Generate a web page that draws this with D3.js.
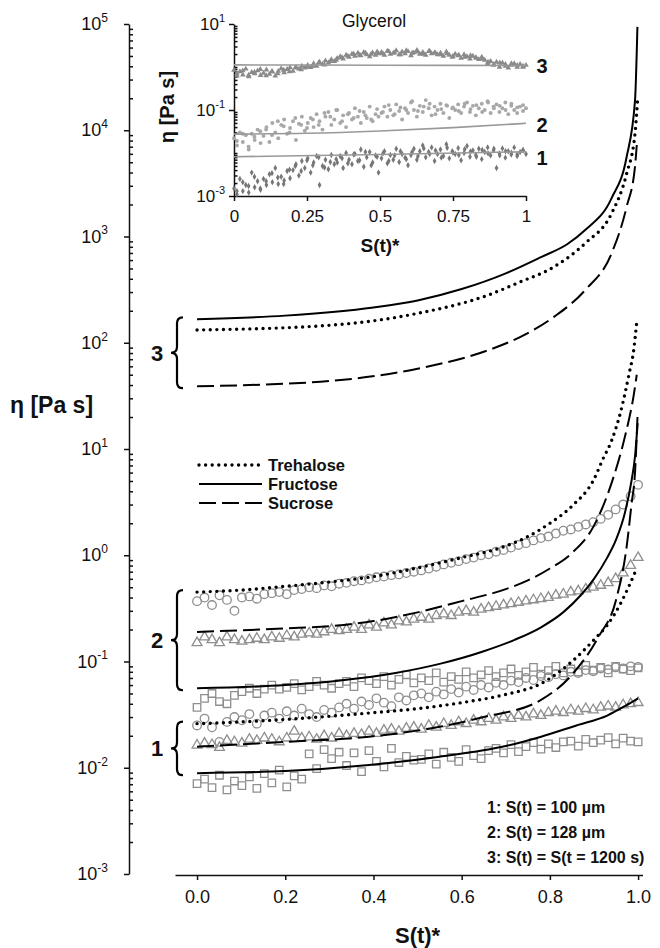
<!DOCTYPE html>
<html>
<head>
<meta charset="utf-8">
<script src="https://cdn.jsdelivr.net/npm/d3@7"></script>
<style>
body { margin: 0; background: #fff; }
text { font-family: "Liberation Sans", Arial, sans-serif; fill: #111; }
</style>
</head>
<body>
<svg id="chart" width="660" height="948"></svg>
<script>
// ---------- main chart: model curves (S(t)*, eta) ----------
var fru3X = [0, 0.2, 0.4, 0.5, 0.6, 0.7, 0.78, 0.84, 0.88, 0.94, 0.974, 0.993, 0.9985];
var fru3V = [166, 180, 215, 250, 320, 450, 640, 850, 1150, 2300, 5600, 19000, 94000];
var tre3X = [0, 0.28, 0.5, 0.66, 0.73, 0.81, 0.88, 0.94, 0.974, 0.993, 0.9985];
var tre3V = [132, 144, 189, 281, 370, 520, 863, 1650, 3900, 9300, 18500];
var suc3X = [0, 0.28, 0.5, 0.66, 0.73, 0.81, 0.88, 0.94, 0.974, 0.993, 0.997];
var suc3V = [39, 43, 57, 85, 112, 176, 313, 695, 1900, 4540, 7260];

var tre2X = [0, 0.1, 0.2, 0.3, 0.4, 0.5, 0.6, 0.7, 0.75, 0.8, 0.85, 0.9, 0.92, 0.94, 0.96, 0.98, 0.99, 0.997];
var tre2V = [0.45, 0.47, 0.51, 0.56, 0.63, 0.76, 0.95, 1.22, 1.5, 2.0, 2.9, 5.2, 8.0, 12, 22, 52, 85, 158];
var suc2X = [0, 0.2, 0.3, 0.4, 0.5, 0.6, 0.7, 0.75, 0.8, 0.85, 0.9, 0.94, 0.97, 0.99, 0.997];
var suc2V = [0.19, 0.205, 0.215, 0.24, 0.29, 0.37, 0.48, 0.58, 0.75, 1.05, 1.9, 4.8, 13, 32, 50];
var fru2X = [0, 0.2, 0.32, 0.45, 0.55, 0.65, 0.72, 0.78, 0.83, 0.87, 0.9, 0.93, 0.95, 0.97, 0.985, 0.993, 0.999];
var fru2V = [0.056, 0.06, 0.066, 0.078, 0.095, 0.125, 0.16, 0.21, 0.29, 0.42, 0.6, 0.95, 1.4, 2.5, 5, 8.5, 17.5];

var tre1X = [0, 0.1, 0.2, 0.3, 0.4, 0.5, 0.6, 0.7, 0.78, 0.85, 0.9, 0.93, 0.96, 0.98, 0.995];
var tre1V = [0.026, 0.027, 0.0285, 0.0305, 0.033, 0.036, 0.041, 0.049, 0.062, 0.1, 0.16, 0.22, 0.35, 0.52, 0.72];
var suc1X = [0, 0.2, 0.39, 0.55, 0.65, 0.78, 0.85, 0.91, 0.95, 0.974, 0.985, 0.993, 0.999];
var suc1V = [0.0158, 0.0175, 0.0196, 0.0243, 0.03, 0.0435, 0.075, 0.17, 0.38, 1.2, 3.0, 6, 22];
var fru1X = [0, 0.2, 0.39, 0.55, 0.7, 0.78, 0.86, 0.93, 0.97, 1.0];
var fru1V = [0.0089, 0.0093, 0.0106, 0.0127, 0.016, 0.0196, 0.025, 0.031, 0.038, 0.045];

// ---------- main chart: measured points, 60 per series, S(t)* from 0 to 1 ----------
var circ2 = [0.37, 0.40, 0.34, 0.42, 0.38, 0.30, 0.40, 0.41, 0.39, 0.43,
             0.44, 0.45, 0.43, 0.47, 0.48, 0.50, 0.49, 0.52, 0.51, 0.54,
             0.55, 0.57, 0.58, 0.60, 0.62, 0.63, 0.65, 0.66, 0.68, 0.70,
             0.72, 0.75, 0.78, 0.82, 0.85, 0.88, 0.92, 0.95, 1.0, 1.02,
             1.08, 1.12, 1.18, 1.25, 1.3, 1.38, 1.45, 1.5, 1.6, 1.7,
             1.75, 1.85, 1.95, 2.05, 2.2, 2.4, 2.7, 3.0, 3.6, 4.6];
var tri2 = [0.15, 0.17, 0.16, 0.15, 0.17, 0.16, 0.155, 0.16, 0.165, 0.16,
            0.17, 0.165, 0.175, 0.17, 0.18, 0.185, 0.18, 0.19, 0.2, 0.195,
            0.2, 0.21, 0.2, 0.22, 0.21, 0.23, 0.22, 0.24, 0.235, 0.25,
            0.26, 0.25, 0.27, 0.28, 0.27, 0.29, 0.3, 0.29, 0.31, 0.32,
            0.33, 0.34, 0.35, 0.36, 0.37, 0.38, 0.39, 0.4, 0.42, 0.43,
            0.45, 0.46, 0.48, 0.5, 0.52, 0.55, 0.6, 0.68, 0.8, 0.95];
var sq2 = [0.037, 0.045, 0.05, 0.042, 0.04, 0.048, 0.052, 0.056, 0.05, 0.055,
           0.06, 0.055, 0.057, 0.062, 0.054, 0.058, 0.065, 0.06, 0.056, 0.062,
           0.065, 0.058, 0.07, 0.066, 0.062, 0.072, 0.06, 0.068, 0.075, 0.063,
           0.07, 0.066, 0.078, 0.064, 0.072, 0.068, 0.08, 0.07, 0.075, 0.082,
           0.072, 0.078, 0.085, 0.074, 0.08, 0.088, 0.076, 0.082, 0.09, 0.078,
           0.085, 0.08, 0.092, 0.083, 0.088, 0.078, 0.09, 0.085, 0.082, 0.087];
var circ1 = [0.025, 0.029, 0.024, 0.0175, 0.027, 0.03, 0.028, 0.032, 0.026, 0.031,
             0.033, 0.029, 0.034, 0.031, 0.036, 0.032, 0.03, 0.035, 0.033, 0.037,
             0.04, 0.036, 0.042, 0.039, 0.045, 0.041, 0.038, 0.046, 0.043, 0.048,
             0.05, 0.046, 0.052, 0.049, 0.055, 0.051, 0.058, 0.054, 0.06, 0.057,
             0.063, 0.06, 0.066, 0.064, 0.07, 0.067, 0.073, 0.071, 0.076, 0.074,
             0.08, 0.078, 0.083, 0.081, 0.086, 0.084, 0.088, 0.086, 0.09, 0.089];
var tri1 = [0.0163, 0.017, 0.0165, 0.0155, 0.018, 0.0175, 0.017, 0.0185, 0.018, 0.019,
            0.0185, 0.0175, 0.019, 0.022, 0.019, 0.0195, 0.0185, 0.02, 0.019, 0.021,
            0.02, 0.021, 0.0205, 0.022, 0.021, 0.0225, 0.023, 0.022, 0.0235, 0.024,
            0.023, 0.025, 0.024, 0.026, 0.025, 0.027, 0.026, 0.028, 0.027, 0.029,
            0.028, 0.03, 0.029, 0.031, 0.03, 0.032, 0.031, 0.033, 0.034, 0.033,
            0.035, 0.034, 0.036, 0.035, 0.037, 0.038, 0.037, 0.039, 0.04, 0.041];
var sq1 = [0.0071, 0.0078, 0.0065, 0.0085, 0.0062, 0.0075, 0.0068, 0.0082, 0.0064, 0.0088,
           0.0072, 0.0095, 0.0066, 0.0084, 0.0078, 0.0135, 0.0098, 0.0148, 0.0122, 0.014,
           0.0105, 0.0138, 0.0092, 0.0145, 0.0115, 0.0102, 0.0152, 0.0112, 0.0128, 0.0118,
           0.012, 0.0135, 0.0108, 0.014, 0.0125, 0.0115, 0.0148, 0.013, 0.0122, 0.0145,
           0.0152, 0.0138, 0.0165, 0.0142, 0.0158, 0.0172, 0.015, 0.0168, 0.0155, 0.0175,
           0.0178, 0.016, 0.0185, 0.0172, 0.0182, 0.0192, 0.0168, 0.019, 0.0178, 0.0175];

// ---------- inset (Glycerol): 100 points per series on the main grid ----------
var gly3 = [0.85, 0.62, 0.78, 0.66, 0.9, 0.6, 0.75, 0.7, 0.82, 0.64, 0.72, 0.86, 0.68, 0.77, 0.62,
            0.8, 0.92, 0.74, 0.88, 0.97, 0.8, 1.0, 0.9, 1.05, 0.95,
            1.1, 0.98, 1.2, 1.05, 1.3, 1.15, 1.4, 1.25, 1.5, 1.35,
            1.6, 1.75, 1.55, 1.9, 1.7, 2.0, 1.8, 2.1, 1.85, 2.2, 1.95, 1.75, 2.15, 1.9, 2.05,
            2.2, 1.9, 2.35, 2.0, 2.1, 2.4, 1.95, 2.25, 2.05, 2.3, 1.85, 2.15, 2.45, 2.0, 2.2, 1.9, 2.3, 2.05, 2.15, 1.95,
            2.1, 1.8, 2.25, 1.9, 1.7, 2.0, 1.85, 1.6, 1.95, 1.75, 1.55, 1.8, 1.65, 1.5, 1.7,
            1.45, 1.2, 1.35, 1.1, 1.3, 1.0, 1.25, 1.15, 0.95, 1.1, 1.2, 1.0, 1.15, 1.05, 1.1];
var gly2 = [0.022, 0.015, 0.03, 0.018, 0.026, 0.012, 0.028, 0.02, 0.035, 0.017,
            0.025, 0.04, 0.018, 0.05, 0.03, 0.022, 0.045, 0.06, 0.028, 0.038, 0.055, 0.02, 0.048, 0.07, 0.033,
            0.05, 0.065, 0.04, 0.08, 0.055, 0.035, 0.07, 0.09, 0.045, 0.06, 0.1, 0.05, 0.075, 0.04, 0.085,
            0.06, 0.11, 0.07, 0.05, 0.09, 0.065, 0.12, 0.055, 0.08, 0.07,
            0.085, 0.12, 0.07, 0.1, 0.075, 0.135, 0.095, 0.06, 0.11, 0.085, 0.15, 0.1, 0.07, 0.125, 0.09,
            0.17, 0.11, 0.075, 0.12, 0.1, 0.14, 0.085, 0.13, 0.065, 0.11,
            0.1, 0.135, 0.085, 0.12, 0.15, 0.09, 0.125, 0.075, 0.11, 0.14, 0.1, 0.16, 0.085, 0.12, 0.135,
            0.09, 0.11, 0.15, 0.08, 0.125, 0.1, 0.085, 0.12, 0.095, 0.11];
var gly1 = [0.0015, 0.0011, 0.0025, 0.0013, 0.0018, 0.0012, 0.0035, 0.0016, 0.0022, 0.0014,
            0.0025, 0.0018, 0.0032, 0.0021, 0.0045, 0.0019, 0.0028, 0.0023, 0.0038, 0.0026,
            0.004, 0.0055, 0.003, 0.0065, 0.0045, 0.0075, 0.0035, 0.006, 0.0085, 0.0018, 0.005, 0.007, 0.0042, 0.009, 0.0055,
            0.006, 0.0085, 0.0045, 0.01, 0.007, 0.0055, 0.0095, 0.0065, 0.012, 0.0048, 0.008, 0.0105, 0.006,
            0.0088, 0.0035, 0.0075, 0.011, 0.0058, 0.009, 0.007, 0.0125, 0.0062, 0.0095, 0.0078, 0.0052,
            0.009, 0.0125, 0.007, 0.011, 0.015, 0.008, 0.0105, 0.0135, 0.0065, 0.0095, 0.012, 0.0085, 0.016,
            0.0075, 0.011, 0.0095, 0.013, 0.0068, 0.01, 0.0145, 0.0082, 0.0115, 0.009, 0.0125, 0.0072,
            0.0105, 0.0135, 0.0088, 0.0115, 0.0045, 0.0098, 0.0128, 0.0078, 0.011, 0.0092, 0.0135, 0.0085,
            0.0105, 0.0118, 0.0095];
// second pass of readings, 50 per series, lying between the points above
var gly3b = [0.7, 0.82, 0.65, 0.76, 0.88, 0.63, 0.8, 0.7,
             0.85, 0.78, 0.95, 0.87, 1.0,
             1.05, 1.25, 1.12, 1.35, 1.45,
             1.65, 1.8, 2.0, 1.9, 2.1, 2.0, 2.25,
             2.05, 2.3, 2.15, 1.95, 2.4, 2.1, 2.25, 2.0, 2.35, 2.1,
             1.95, 2.05, 1.8, 1.9, 1.7, 1.85, 1.6, 1.55,
             1.3, 1.15, 1.25, 1.05, 1.2, 1.1, 1.0];
var gly2b = [0.019, 0.028, 0.014, 0.024, 0.032,
             0.035, 0.026, 0.055, 0.042, 0.03, 0.065, 0.045, 0.038,
             0.06, 0.045, 0.085, 0.07, 0.1, 0.055, 0.08, 0.065, 0.095, 0.075, 0.06, 0.105,
             0.09, 0.13, 0.08, 0.115, 0.1, 0.16, 0.095, 0.12, 0.14, 0.08, 0.105, 0.125,
             0.115, 0.095, 0.14, 0.105, 0.13, 0.09, 0.15, 0.11, 0.125, 0.1, 0.14, 0.115, 0.13];
var gly1b = [0.0013, 0.0021, 0.0017, 0.0028, 0.0015,
             0.0022, 0.0034, 0.0027, 0.0019, 0.0041,
             0.005, 0.0038, 0.0068, 0.0052, 0.008, 0.0046, 0.0062, 0.0072,
             0.0075, 0.0058, 0.0092, 0.0068, 0.0105, 0.0052, 0.0082, 0.0098, 0.0065, 0.0088, 0.011, 0.0072,
             0.0105, 0.0085, 0.0128, 0.0095, 0.0115, 0.0078, 0.0132, 0.0102, 0.009, 0.0122,
             0.0108, 0.0082, 0.0118, 0.0098, 0.0125, 0.0088, 0.011, 0.0102, 0.0092, 0.0115];
var glyLine3X = [0, 0.5, 1],               glyLine3V = [1.12, 1.1, 1.08];
var glyLine2X = [0, 0.25, 0.5, 0.75, 1],   glyLine2V = [0.0275, 0.0287, 0.0325, 0.039, 0.049];
var glyLine1X = [0, 0.5, 1],               glyLine1V = [0.0082, 0.0092, 0.0107];

var mainXTicks = [0, 0.2, 0.4, 0.6, 0.8, 1.0];
var mainDecades = [-3, -2, -1, 0, 1, 2, 3, 4, 5];
var insetXTicks = [0, 0.25, 0.5, 0.75, 1];
var insetDecades = [-3, -2, -1, 0, 1];
var insetLabelled = [-3, -1, 1];
var sugars = ["Trehalose", "Fructose", "Sucrose"];
var conditions = ["1: S(t) = 100 \u00b5m", "2: S(t) = 128 \u00b5m", "3: S(t) = S(t = 1200 s)"];

var svg = d3.select("#chart");
var grey = "#8e8e8e";

// scales
var x = d3.scaleLinear().domain([-0.05, 1.01]).range([175, 642.5]);
var y = d3.scaleLog().domain([1e-3, 1e5]).range([874, 24]);
var xi = d3.scaleLinear().domain([0, 1]).range([234, 526]);
var yi = d3.scaleLog().domain([1e-3, 10]).range([196, 24]);

var minorsFor = function(decs){
    var out = [];
    decs.forEach(function(e){
        if (e === decs[decs.length - 1]) return;
        for (var k = 2; k <= 9; k++) out.push(k * Math.pow(10, e));
    });
    return out;
};

var pow10 = function(g, px, py, e, fs, sfs){
    var t = g.append("text").attr("x", px).attr("y", py)
        .attr("text-anchor", "end").attr("font-size", fs);
    t.append("tspan").text("10");
    t.append("tspan").attr("dy", -fs * 0.45).attr("font-size", sfs).text(e);
};

var styleFor = function(name, sel){
    if (name === "Trehalose") {
        sel.attr("stroke-width", 3.4).attr("stroke-dasharray", "0 6.6").attr("stroke-linecap", "round");
    } else if (name === "Sucrose") {
        sel.attr("stroke-width", 2).attr("stroke-dasharray", "17 6");
    } else {
        sel.attr("stroke-width", 2);
    }
    return sel;
};

// ---------- main axes ----------
var yMajor = svg.append("g").attr("transform", "translate(129,0)")
    .call(d3.axisLeft(y).tickValues(mainDecades.map(function(e){ return Math.pow(10, e); }))
        .tickSize(5).tickSizeOuter(0).tickFormat(""));
var yMinor = svg.append("g").attr("transform", "translate(129,0)")
    .call(d3.axisRight(y).tickValues(minorsFor(mainDecades)).tickSize(4).tickFormat(""));
yMinor.select(".domain").remove();
svg.selectAll(".domain, .tick line").attr("stroke", "#111").attr("stroke-width", 1.5);

mainDecades.forEach(function(e){
    pow10(svg, 108, y(Math.pow(10, e)) + 6, e, 18, 12);
});

var xAxis = svg.append("g").attr("transform", "translate(0,875)")
    .call(d3.axisBottom(x).tickValues(mainXTicks).tickSize(5).tickSizeOuter(0)
        .tickPadding(10).tickFormat(d3.format(".1f")));
xAxis.selectAll("text").attr("font-size", 18).attr("font-family", null);
xAxis.selectAll(".domain, .tick line").attr("stroke", "#111").attr("stroke-width", 1.5);

svg.append("text").attr("x", 10).attr("y", 413).attr("font-size", 23)
    .attr("font-weight", "bold").text("\u03b7 [Pa s]");
svg.append("text").attr("x", x(0.5)).attr("y", 943).attr("text-anchor", "middle")
    .attr("font-size", 22).attr("font-weight", "bold").text("S(t)*");

// ---------- measured points ----------
var pts = function(vals){ return vals.map(function(v, i){ return [i / (vals.length - 1), v]; }); };
var midPts = function(vals){ return vals.map(function(v, i){ return [(2 * i + 1) / (2 * vals.length), v]; }); };
var sym = function(type, size){ return d3.symbol().type(type).size(size)(); };

var markerSets = [
    {vals: circ2, type: "circle"}, {vals: tri2, type: d3.symbolTriangle}, {vals: sq2, type: d3.symbolSquare},
    {vals: circ1, type: "circle"}, {vals: tri1, type: d3.symbolTriangle}, {vals: sq1, type: d3.symbolSquare}
];
markerSets.forEach(function(s){
    var g = svg.append("g").attr("fill", "none").attr("stroke", grey).attr("stroke-width", 1.3);
    if (s.type === "circle") {
        g.selectAll("circle").data(pts(s.vals)).enter().append("circle")
            .attr("cx", function(d){ return x(d[0]); })
            .attr("cy", function(d){ return y(d[1]); })
            .attr("r", 4.3);
    } else {
        var path = sym(s.type, s.type === d3.symbolSquare ? 56 : 42);
        g.selectAll("path").data(pts(s.vals)).enter().append("path")
            .attr("d", path)
            .attr("transform", function(d){ return "translate(" + x(d[0]) + "," + y(d[1]) + ")"; });
    }
});

// ---------- model curves ----------
var line = d3.line()
    .x(function(d){ return x(d[0]); })
    .y(function(d){ return y(d[1]); })
    .curve(d3.curveMonotoneX);

var groups = [
    {label: "3", curves: [["Fructose", fru3X, fru3V], ["Trehalose", tre3X, tre3V], ["Sucrose", suc3X, suc3V]]},
    {label: "2", curves: [["Trehalose", tre2X, tre2V], ["Sucrose", suc2X, suc2V], ["Fructose", fru2X, fru2V]]},
    {label: "1", curves: [["Trehalose", tre1X, tre1V], ["Sucrose", suc1X, suc1V], ["Fructose", fru1X, fru1V]]}
];

groups.forEach(function(grp){
    grp.curves.forEach(function(c){
        styleFor(c[0], svg.append("path")
            .attr("d", line(d3.zip(c[1], c[2])))
            .attr("fill", "none").attr("stroke", "#000"));
    });

    // curly bracket spanning the curves at S(t)* = 0
    var starts = grp.curves.map(function(c){ return y(c[2][0]); });
    var yT = d3.min(starts) - 2, yB = d3.max(starts) + 2, yM = (yT + yB) / 2;
    var xs = 177, xh = 183, xt = 171;
    var p = d3.path();
    p.moveTo(xh, yT);
    p.quadraticCurveTo(xs, yT, xs, yT + 6);
    p.lineTo(xs, yM - 6);
    p.quadraticCurveTo(xs, yM, xt, yM);
    p.quadraticCurveTo(xs, yM, xs, yM + 6);
    p.lineTo(xs, yB - 6);
    p.quadraticCurveTo(xs, yB, xh, yB);
    svg.append("path").attr("d", p.toString()).attr("fill", "none")
        .attr("stroke", "#000").attr("stroke-width", 2.2);
    svg.append("text").attr("x", 157).attr("y", yM + 8).attr("text-anchor", "middle")
        .attr("font-size", 22).attr("font-weight", "bold").text(grp.label);
});

// ---------- legends ----------
var legend = svg.append("g").attr("transform", "translate(198,465)");
sugars.forEach(function(name, i){
    var ly = i * 19;
    styleFor(name, legend.append("line").attr("x1", 1).attr("x2", 64).attr("y1", ly).attr("y2", ly)
        .attr("stroke", "#000"));
    legend.append("text").attr("x", 70).attr("y", ly + 6).attr("font-size", 16.5)
        .attr("font-weight", "bold").text(name);
});

conditions.forEach(function(t, i){
    svg.append("text").attr("x", 487).attr("y", 813 + i * 25).attr("font-size", 16)
        .attr("font-weight", "bold").text(t);
});

// ---------- inset ----------
var inset = svg.append("g");
var iyMajor = inset.append("g").attr("transform", "translate(234,0)")
    .call(d3.axisLeft(yi).tickValues(insetLabelled.map(function(e){ return Math.pow(10, e); }))
        .tickSize(5).tickSizeOuter(0).tickFormat(""));
var iyMinor = inset.append("g").attr("transform", "translate(234,0)")
    .call(d3.axisRight(yi).tickValues(minorsFor(insetDecades).concat([1, 0.01]))
        .tickSize(3.5).tickFormat(""));
iyMinor.select(".domain").remove();
var ixAxis = inset.append("g").attr("transform", "translate(0,196)")
    .call(d3.axisBottom(xi).tickValues(insetXTicks).tickSize(5).tickSizeOuter(0)
        .tickPadding(9).tickFormat(d3.format("")));
ixAxis.selectAll("text").attr("font-size", 17).attr("font-family", null);
inset.selectAll(".domain, .tick line").attr("stroke", "#111").attr("stroke-width", 1.5);

insetLabelled.forEach(function(e){
    pow10(inset, 225, yi(Math.pow(10, e)) + 6, e, 17, 11);
});

inset.append("text").attr("transform", "translate(174,107) rotate(-90)")
    .attr("text-anchor", "middle").attr("font-size", 20).attr("font-weight", "bold")
    .text("\u03b7 [Pa s]");
inset.append("text").attr("x", xi(0.5)).attr("y", 252).attr("text-anchor", "middle")
    .attr("font-size", 19).attr("font-weight", "bold").text("S(t)*");
inset.append("text").attr("x", 374).attr("y", 27).attr("text-anchor", "middle")
    .attr("font-size", 17.5).text("Glycerol");

var iline = d3.line()
    .x(function(d){ return xi(d[0]); })
    .y(function(d){ return yi(d[1]); })
    .curve(d3.curveMonotoneX);

var glySets = [
    {vals: gly3, more: gly3b, type: d3.symbolTriangle, size: 14, col: "#8a8a8a", lx: glyLine3X, lv: glyLine3V, label: "3", dy: 7},
    {vals: gly2, more: gly2b, type: d3.symbolCircle, size: 12, col: "#a8a8a8", lx: glyLine2X, lv: glyLine2V, label: "2", dy: 9},
    {vals: gly1, more: gly1b, type: d3.symbolDiamond, size: 12, col: "#777", lx: glyLine1X, lv: glyLine1V, label: "1", dy: 13}
];
glySets.forEach(function(s){
    var d = sym(s.type, s.size);
    inset.append("g").attr("fill", s.col).selectAll("path")
        .data(pts(s.vals).concat(midPts(s.more))).enter().append("path")
        .attr("d", d)
        .attr("transform", function(p){ return "translate(" + xi(p[0]) + "," + yi(p[1]) + ")"; });
});
glySets.forEach(function(s){
    inset.append("path").attr("d", iline(d3.zip(s.lx, s.lv)))
        .attr("fill", "none").attr("stroke", "#999").attr("stroke-width", 1.6);
    inset.append("text").attr("x", 542).attr("y", yi(s.lv[s.lv.length - 1]) + s.dy)
        .attr("text-anchor", "middle").attr("font-size", 20).attr("font-weight", "bold")
        .text(s.label);
});
</script>
</body>
</html>
